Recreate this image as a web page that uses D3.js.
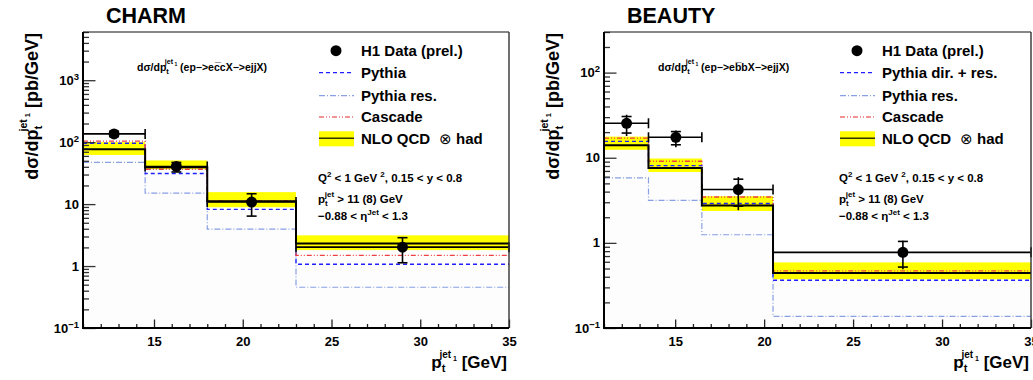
<!DOCTYPE html>
<html>
<head>
<meta charset="utf-8">
<script src="https://cdn.jsdelivr.net/npm/d3@7"></script>
<style>
  body { margin: 0; background: #fff; }
  svg text { font-family: "Liberation Sans", Arial, sans-serif; font-weight: bold; fill: #000; }
</style>
</head>
<body>
<svg id="chart" width="1033" height="380"></svg>
<script>
// ---- charm data
const charmEdges = [11, 14.5, 18, 23, 35];
const charmDataX = [12.75, 16.26, 20.5, 29];
const charmData = [136, 40.5, 10.8, 2.02];
const charmErrUp = [150, 47, 14.7, 2.87];
const charmErrDn = [123, 33, 6.4, 1.13];
const charmNLO = [77, 39.5, 11.1, 2.32];
const charmNLOlo = [62, 36.7, 8.9, 1.81];
const charmNLOhi = [100, 50.7, 15.6, 3.13];
const charmPythia = [96, 31.2, 8.2, 1.07];
const charmPythiaRes = [47, 15, 3.95, 0.455];
const charmCascade = [104, 36.5, 11.3, 1.49];

// ---- beauty data
const beautyEdges = [11, 13.5, 16.5, 20.5, 35];
const beautyDataX = [12.27, 15.04, 18.55, 27.8];
const beautyData = [25.4, 17.4, 4.23, 0.774];
const beautyErrUp = [32, 20.9, 5.93, 1.06];
const beautyErrDn = [18, 13.3, 2.42, 0.49];
const beautyStatUp = [30.5, 20.3, 5.6, 1.04];
const beautyStatDn = [19.5, 14.2, 2.7, 0.52];
const beautyNLO = [14, 7.6, 2.75, 0.443];
const beautyNLOlo = [12.4, 6.8, 2.37, 0.374];
const beautyNLOhi = [17.7, 9.8, 3.53, 0.59];
const beautyPythia = [15.6, 8.06, 2.9, 0.364];
const beautyPythiaRes = [5.8, 3.16, 1.245, 0.137];
const beautyCascade = [17, 9.1, 3.46, 0.468];

const xTickLabels = [15, 20, 25, 30, 35];

const colPythia = '#1f1fff';
const colRes = '#88a0e4';
const colCascade = '#ee4040';

const svg = d3.select('#chart');

function drawPanel(p) {
  const L = p.left, R = p.right, T = 32, B = 328;
  const x = d3.scaleLinear().domain([11, 35]).range([L, R]);
  const y = d3.scaleLog().domain(p.yDomain).range([B, T]);
  const g = svg.append('g');

  const clipId = 'clip' + L;
  svg.append('clipPath').attr('id', clipId)
    .append('rect').attr('x', L).attr('y', T).attr('width', R - L).attr('height', B - T);
  const plot = g.append('g').attr('clip-path', `url(#${clipId})`);

  const bins = p.edges.slice(0, -1).map((e, i) => ({x0: e, x1: p.edges[i + 1], i}));

  // step histogram points
  const steps = vals => {
    const pts = [];
    bins.forEach(b => { pts.push([b.x0, vals[b.i]]); pts.push([b.x1, vals[b.i]]); });
    return pts;
  };
  const line = d3.line().x(d => x(d[0])).y(d => y(d[1]));

  // faint fill under pythia
  plot.append('path')
    .datum([[11, 0.1], ...steps(p.pythia), [35, 0.1]])
    .attr('d', line).attr('fill', '#fdfdfd').attr('stroke', 'none');

  // NLO uncertainty band
  plot.selectAll('rect.band').data(bins).enter().append('rect')
    .attr('x', b => x(b.x0)).attr('width', b => x(b.x1) - x(b.x0))
    .attr('y', b => y(p.nloHi[b.i]))
    .attr('height', b => y(p.nloLo[b.i]) - y(p.nloHi[b.i]))
    .attr('fill', '#ffff00');

  plot.append('path').datum(steps(p.pythiaRes)).attr('d', line)
    .attr('fill', 'none').attr('stroke', colRes).attr('stroke-width', 1.2)
    .attr('stroke-dasharray', '6,2,1,2');
  plot.append('path').datum(steps(p.pythia)).attr('d', line)
    .attr('fill', 'none').attr('stroke', colPythia).attr('stroke-width', 1.3)
    .attr('stroke-dasharray', '4,3');
  plot.append('path').datum(steps(p.cascade)).attr('d', line)
    .attr('fill', 'none').attr('stroke', colCascade).attr('stroke-width', 1.3)
    .attr('stroke-dasharray', '5,2,1,2,1,2');
  plot.append('path').datum(steps(p.nlo)).attr('d', line)
    .attr('fill', 'none').attr('stroke', '#000').attr('stroke-width', 2);

  // data points with error bars
  const pts = g.append('g');
  bins.forEach(b => {
    const i = b.i, cy = y(p.data[i]), cx = x(p.dataX[i]);
    pts.append('line').attr('x1', x(b.x0)).attr('x2', x(b.x1)).attr('y1', cy).attr('y2', cy)
      .attr('stroke', '#000').attr('stroke-width', 1.6);
    [b.x0, b.x1].forEach(e => {
      pts.append('line').attr('x1', x(e)).attr('x2', x(e)).attr('y1', cy - 5).attr('y2', cy + 5)
        .attr('stroke', '#000').attr('stroke-width', 1.6);
    });
    pts.append('line').attr('x1', cx).attr('x2', cx)
      .attr('y1', y(p.errUp[i])).attr('y2', y(p.errDn[i]))
      .attr('stroke', '#000').attr('stroke-width', 1.6);
    const capUp = p.statUp ? p.statUp[i] : p.errUp[i];
    const capDn = p.statDn ? p.statDn[i] : p.errDn[i];
    [capUp, capDn].forEach(v => {
      pts.append('line').attr('x1', cx - 5).attr('x2', cx + 5).attr('y1', y(v)).attr('y2', y(v))
        .attr('stroke', '#000').attr('stroke-width', 1.6);
    });
    pts.append('circle').attr('cx', cx).attr('cy', cy).attr('r', 5.5).attr('fill', '#000');
  });

  // x axis (ticks point inward)
  const xAxis = d3.axisBottom(x).tickValues(d3.range(11, 36)).tickSize(0).tickPadding(0)
    .tickFormat(d => xTickLabels.includes(d) ? d : '');
  const xg = g.append('g').attr('transform', `translate(0,${B})`).call(xAxis);
  xg.select('.domain').remove();
  xg.selectAll('.tick line').attr('y2', d => d % 5 === 0 ? -8.5 : -4)
    .attr('stroke', '#222').attr('stroke-width', 1.3);
  xg.selectAll('.tick text').attr('y', 9).attr('dy', '0.71em')
    .style('font-size', '13px').style('font-family', '"Liberation Sans", Arial, sans-serif')
    .style('font-weight', 'bold');

  // y axis, log ticks
  const yTicks = [];
  for (let k = -1; k <= 3; k++) {
    for (let m = 1; m <= 9; m++) {
      const v = m * Math.pow(10, k);
      if (v >= p.yDomain[0] && v <= p.yDomain[1]) yTicks.push(v);
    }
  }
  const yAxis = d3.axisLeft(y).tickValues(yTicks).tickSize(0).tickFormat('');
  const yg = g.append('g').attr('transform', `translate(${L},0)`).call(yAxis);
  yg.select('.domain').remove();
  yg.selectAll('.tick line')
    .attr('x2', d => Math.abs(Math.log10(d) - Math.round(Math.log10(d))) < 1e-9 ? 12.5 : 6)
    .attr('stroke', '#333').attr('stroke-width', 1.3);

  // y tick labels
  p.yLabels.forEach(v => {
    const e = Math.round(Math.log10(v));
    const t = g.append('text').attr('x', L - 4).attr('y', y(v) + 4.5)
      .attr('text-anchor', 'end').style('font-size', '13px');
    if (e === 0) t.text('1');
    else if (e === 1) t.text('10');
    else {
      t.append('tspan').text('10');
      t.append('tspan').attr('dy', -5).style('font-size', '9.5px').text(e < 0 ? '\u2212' + (-e) : e);
    }
  });

  // frame
  g.append('line').attr('x1', L).attr('x2', R).attr('y1', T).attr('y2', T)
    .attr('stroke', '#111').attr('stroke-width', 1.2);
  g.append('line').attr('x1', R).attr('x2', R).attr('y1', T).attr('y2', B)
    .attr('stroke', '#333').attr('stroke-width', 1.4);
  g.append('line').attr('x1', L).attr('x2', L).attr('y1', T).attr('y2', B + 1)
    .attr('stroke', '#000').attr('stroke-width', 2);
  g.append('line').attr('x1', L - 1).attr('x2', R).attr('y1', B).attr('y2', B)
    .attr('stroke', '#000').attr('stroke-width', 2);

  // title
  g.append('text').attr('x', L + 23).attr('y', 23).style('font-size', '21.5px').text(p.title);

  // y axis title
  const yt = g.append('text').attr('transform', `translate(${L - 45},33) rotate(-90)`)
    .attr('text-anchor', 'end').style('font-size', '18px');
  yt.append('tspan').text('d\u03c3/dp');
  yt.append('tspan').attr('dy', 4).style('font-size', '11.5px').text('t');
  yt.append('tspan').attr('dx', -6).attr('dy', -15).style('font-size', '10.5px').text('jet');
  yt.append('tspan').attr('dy', 3).style('font-size', '7.5px').text(' 1');
  yt.append('tspan').attr('dy', 8).text(' [pb/GeV]');

  // x axis title
  const xt = g.append('text').attr('x', R - 2).attr('y', 368)
    .attr('text-anchor', 'end').style('font-size', '17px');
  xt.append('tspan').text('p');
  xt.append('tspan').attr('dy', 4).style('font-size', '11px').text('t');
  xt.append('tspan').attr('dx', -6).attr('dy', -14).style('font-size', '10px').text('jet');
  xt.append('tspan').attr('dy', 3).style('font-size', '7px').text(' 1');
  xt.append('tspan').attr('dy', 7).text(' [GeV]');

  // process text
  const pt = g.append('text').attr('x', L + 54).attr('y', 70.7).style('font-size', '10.5px');
  pt.append('tspan').text('d\u03c3/dp');
  pt.append('tspan').attr('dy', 3).style('font-size', '7.5px').text('t');
  pt.append('tspan').attr('dx', -4).attr('dy', -10).style('font-size', '7px').text('jet');
  pt.append('tspan').attr('dy', 2).style('font-size', '5px').text(' 1');
  pt.append('tspan').attr('dy', 5).text(p.process);

  // legend
  const lx = L + 236, tx = L + 278;
  const rows = [50.7, 72.7, 95.7, 117, 138.3];
  g.append('circle').attr('cx', L + 253).attr('cy', rows[0]).attr('r', 5.5).attr('fill', '#000');
  g.append('line').attr('x1', lx).attr('x2', lx + 35).attr('y1', rows[1]).attr('y2', rows[1])
    .attr('stroke', colPythia).attr('stroke-width', 1.3).attr('stroke-dasharray', '4,3');
  g.append('line').attr('x1', lx).attr('x2', lx + 35).attr('y1', rows[2]).attr('y2', rows[2])
    .attr('stroke', colRes).attr('stroke-width', 1.2).attr('stroke-dasharray', '6,2,1,2');
  g.append('line').attr('x1', lx).attr('x2', lx + 35).attr('y1', rows[3]).attr('y2', rows[3])
    .attr('stroke', '#f07070').attr('stroke-width', 1.3).attr('stroke-dasharray', '5,2,1,2,1,2');
  g.append('rect').attr('x', lx).attr('y', rows[4] - 7).attr('width', 35).attr('height', 15)
    .attr('fill', '#ffff00');
  g.append('line').attr('x1', lx).attr('x2', lx + 35).attr('y1', rows[4]).attr('y2', rows[4])
    .attr('stroke', '#333300').attr('stroke-width', 1.5);
  p.legend.forEach((s, i) => {
    g.append('text').attr('x', tx).attr('y', rows[i] + 5.3).style('font-size', '15px').text(s);
  });
  g.append('text').attr('x', L + 356).attr('y', rows[4] + 5.3).style('font-size', '15px')
    .style('font-weight', 'normal').text('\u2297');
  g.append('text').attr('x', L + 373).attr('y', rows[4] + 5.3).style('font-size', '15px').text('had');

  // cuts
  const c1 = g.append('text').attr('x', L + 235).attr('y', 182).style('font-size', '11.5px');
  c1.append('tspan').text('Q');
  c1.append('tspan').attr('dy', -5).style('font-size', '8px').text('2');
  c1.append('tspan').attr('dy', 5).text(' < 1 GeV ');
  c1.append('tspan').attr('dy', -5).style('font-size', '8px').text('2');
  c1.append('tspan').attr('dy', 5).text(', 0.15 < y < 0.8');
  const c2 = g.append('text').attr('x', L + 235).attr('y', 203).style('font-size', '11.5px');
  c2.append('tspan').text('p');
  c2.append('tspan').attr('dy', 3).style('font-size', '8px').text('t');
  c2.append('tspan').attr('dx', -3).attr('dy', -9).style('font-size', '8px').text('jet');
  c2.append('tspan').attr('dy', 6).text(' > 11 (8) GeV');
  const c3 = g.append('text').attr('x', L + 235).attr('y', 220).style('font-size', '11.5px');
  c3.append('tspan').text('\u22120.88 < \u03b7');
  c3.append('tspan').attr('dy', -5).style('font-size', '8px').text('Jet');
  c3.append('tspan').attr('dy', 5).text(' < 1.3');
}

drawPanel({
  left: 83, right: 509, yDomain: [0.1, 6000], title: 'CHARM',
  edges: charmEdges, dataX: charmDataX, data: charmData, errUp: charmErrUp, errDn: charmErrDn,
  nlo: charmNLO, nloLo: charmNLOlo, nloHi: charmNLOhi,
  pythia: charmPythia, pythiaRes: charmPythiaRes, cascade: charmCascade,
  yLabels: [0.1, 1, 10, 100, 1000],
  process: ' (ep\u2212>ec\u0305cX\u2212>ejjX)',
  legend: ['H1 Data (prel.)', 'Pythia', 'Pythia res.', 'Cascade', 'NLO QCD']
});

drawPanel({
  left: 604, right: 1031, yDomain: [0.1, 300], title: 'BEAUTY',
  edges: beautyEdges, dataX: beautyDataX, data: beautyData, errUp: beautyErrUp, errDn: beautyErrDn,
  statUp: beautyStatUp, statDn: beautyStatDn,
  nlo: beautyNLO, nloLo: beautyNLOlo, nloHi: beautyNLOhi,
  pythia: beautyPythia, pythiaRes: beautyPythiaRes, cascade: beautyCascade,
  yLabels: [0.1, 1, 10, 100],
  process: ' (ep\u2212>eb\u0305bX\u2212>ejjX)',
  legend: ['H1 Data (prel.)', 'Pythia dir. + res.', 'Pythia res.', 'Cascade', 'NLO QCD']
});
</script>
</body>
</html>
